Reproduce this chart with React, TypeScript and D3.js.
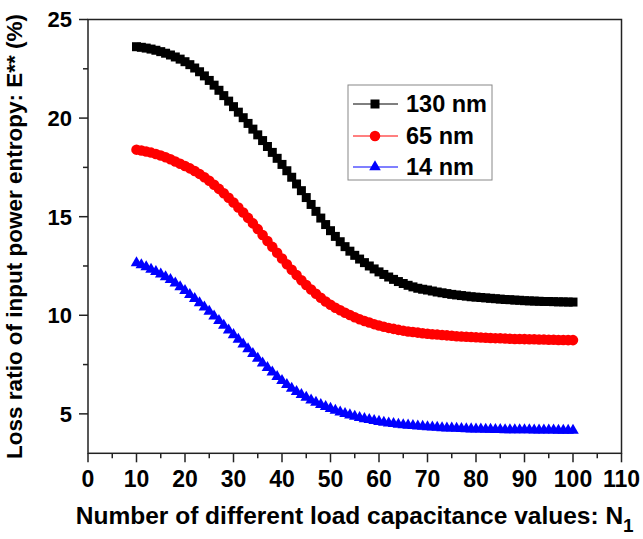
import React from "react";
import * as d3 from "d3";

// N1: number of different load capacitance values (10 … 100)
const nValues: number[] = d3.range(10, 101);

// Loss ratio E** (%) for each technology node, one value per N1
const loss130nm: number[] = [
  23.62, 23.59, 23.55, 23.50, 23.44, 23.37, 23.29, 23.20, 23.10, 22.99,
  22.86, 22.71, 22.54, 22.35, 22.14, 21.91, 21.67, 21.41, 21.14, 20.86,
  20.58, 20.30, 20.02, 19.73, 19.44, 19.15, 18.86, 18.56, 18.26, 17.96,
  17.65, 17.33, 17.00, 16.66, 16.32, 15.97, 15.62, 15.27, 14.93, 14.60,
  14.29, 14.00, 13.73, 13.48, 13.25, 13.04, 12.85, 12.67, 12.50, 12.35,
  12.20, 12.07, 11.94, 11.82, 11.71, 11.61, 11.52, 11.44, 11.37, 11.32,
  11.28, 11.23, 11.18, 11.14, 11.10, 11.06, 11.03, 11.00, 10.97, 10.94,
  10.92, 10.90, 10.88, 10.86, 10.84, 10.82, 10.80, 10.79, 10.77, 10.76,
  10.74, 10.73, 10.72, 10.71, 10.70, 10.70, 10.69, 10.68, 10.68, 10.67,
  10.67,
];

const loss65nm: number[] = [
  18.40, 18.36, 18.31, 18.25, 18.18, 18.10, 18.01, 17.91, 17.80, 17.68,
  17.57, 17.45, 17.32, 17.17, 17.00, 16.82, 16.62, 16.41, 16.19, 15.96,
  15.72, 15.47, 15.21, 14.94, 14.66, 14.37, 14.07, 13.77, 13.47, 13.17,
  12.88, 12.59, 12.31, 12.04, 11.78, 11.54, 11.31, 11.09, 10.89, 10.70,
  10.53, 10.38, 10.25, 10.13, 10.01, 9.90, 9.80, 9.71, 9.63, 9.55,
  9.48, 9.42, 9.36, 9.31, 9.26, 9.22, 9.18, 9.15, 9.12, 9.09,
  9.06, 9.04, 9.02, 9.00, 8.98, 8.96, 8.94, 8.92, 8.91, 8.90,
  8.88, 8.87, 8.86, 8.85, 8.84, 8.83, 8.82, 8.81, 8.80, 8.80,
  8.79, 8.78, 8.78, 8.77, 8.77, 8.76, 8.76, 8.75, 8.75, 8.74,
  8.74,
];

const loss14nm: number[] = [
  12.65, 12.55, 12.45, 12.33, 12.21, 12.08, 11.94, 11.80, 11.63, 11.44,
  11.25, 11.05, 10.84, 10.63, 10.41, 10.19, 9.96, 9.73, 9.49, 9.25,
  9.01, 8.77, 8.53, 8.29, 8.05, 7.81, 7.57, 7.34, 7.11, 6.89,
  6.68, 6.48, 6.29, 6.12, 5.97, 5.83, 5.70, 5.58, 5.47, 5.37,
  5.27, 5.18, 5.09, 5.01, 4.94, 4.87, 4.81, 4.75, 4.70, 4.65,
  4.61, 4.57, 4.53, 4.50, 4.47, 4.44, 4.42, 4.40, 4.38, 4.36,
  4.34, 4.32, 4.31, 4.29, 4.28, 4.27, 4.26, 4.25, 4.24, 4.23,
  4.22, 4.22, 4.21, 4.21, 4.20, 4.20, 4.19, 4.19, 4.19, 4.18,
  4.18, 4.18, 4.17, 4.17, 4.17, 4.17, 4.17, 4.16, 4.16, 4.16,
  4.16,
];

const seriesNames: string[] = ["130 nm", "65 nm", "14 nm"];
const seriesColors: string[] = ["#000000", "#ff0000", "#0000ff"];

const xTicks: number[] = d3.range(0, 111, 10);
const xMinorTicks: number[] = d3.range(5, 110, 10);
const yTicks: number[] = [5, 10, 15, 20, 25];
const yMinorTicks: number[] = [7.5, 12.5, 17.5, 22.5];

const WIDTH = 643;
const HEIGHT = 539;
const FONT = "Arial, 'Liberation Sans', Helvetica, sans-serif";

export default function App() {
  const x = d3.scaleLinear().domain([0, 110]).range([88, 621.5]);
  const y = d3.scaleLinear().domain([3, 25]).range([453.3, 19.5]);

  const seriesData = [loss130nm, loss65nm, loss14nm];
  const symbols = [
    d3.symbol().type(d3.symbolSquare).size(81)(),
    d3.symbol().type(d3.symbolCircle).size(87)(),
    d3.symbol().type(d3.symbolTriangle).size(58)(),
  ];

  const line = d3
    .line<[number, number]>()
    .x((d) => x(d[0]))
    .y((d) => y(d[1]));

  const [x0, x1] = x.range();
  const [yb, yt] = y.range();

  const legendX = 348;
  const legendY = 85;
  const legendRows = [104, 136, 167];

  return (
    <svg
      width={WIDTH}
      height={HEIGHT}
      style={{ position: "absolute", left: 0, top: 0, background: "#fff" }}
      fontFamily={FONT}
    >
      <rect width={WIDTH} height={HEIGHT} fill="#fff" />

      {/* series */}
      {seriesData.map((vals, si) => {
        const pts: [number, number][] = nValues.map((n, i) => [n, vals[i]]);
        return (
          <g key={seriesNames[si]}>
            <path d={line(pts) ?? ""} fill="none" stroke={seriesColors[si]} strokeWidth={1} />
            {pts.map((p, i) => (
              <path
                key={i}
                d={symbols[si] ?? ""}
                transform={`translate(${x(p[0])},${y(p[1])})`}
                fill={seriesColors[si]}
              />
            ))}
          </g>
        );
      })}

      {/* frame */}
      <rect
        x={x0}
        y={yt}
        width={x1 - x0}
        height={yb - yt}
        fill="none"
        stroke="#222"
        strokeWidth={1.5}
      />

      {/* x axis ticks */}
      {xTicks.map((t) => (
        <g key={`xt${t}`}>
          <line x1={x(t)} x2={x(t)} y1={yb} y2={yb + 9} stroke="#222" strokeWidth={1.5} />
          <text
            x={x(t)}
            y={487}
            textAnchor="middle"
            fontSize={23}
            fontWeight="bold"
            fill="#000"
          >
            {t}
          </text>
        </g>
      ))}
      {xMinorTicks.map((t) => (
        <line key={`xm${t}`} x1={x(t)} x2={x(t)} y1={yb} y2={yb + 5} stroke="#222" strokeWidth={1.5} />
      ))}

      {/* y axis ticks */}
      {yTicks.map((t) => (
        <g key={`yt${t}`}>
          <line x1={x0 - 9} x2={x0} y1={y(t)} y2={y(t)} stroke="#222" strokeWidth={1.5} />
          <text
            x={72}
            y={y(t)}
            dy="0.36em"
            textAnchor="end"
            fontSize={22}
            fontWeight="bold"
            fill="#000"
          >
            {t}
          </text>
        </g>
      ))}
      {yMinorTicks.map((t) => (
        <line key={`ym${t}`} x1={x0 - 5} x2={x0} y1={y(t)} y2={y(t)} stroke="#222" strokeWidth={1.5} />
      ))}

      {/* axis titles */}
      <text
        x={(x0 + x1) / 2}
        y={524}
        textAnchor="middle"
        fontSize={24.5}
        fontWeight="bold"
        fill="#000"
      >
        Number of different load capacitance values: N
        <tspan fontSize={19} dy={8}>1</tspan>
      </text>
      <text
        transform={`translate(21.5,${(yt + yb) / 2}) rotate(-90)`}
        textAnchor="middle"
        fontSize={22.5}
        fontWeight="bold"
        fill="#000"
      >
        Loss ratio of input power entropy: E** (%)
      </text>

      {/* legend */}
      <rect
        x={legendX}
        y={legendY}
        width={144}
        height={95}
        fill="#fff"
        stroke="#888"
        strokeWidth={1}
      />
      {seriesNames.map((name, si) => (
        <g key={`lg${name}`}>
          <line
            x1={353}
            x2={398}
            y1={legendRows[si]}
            y2={legendRows[si]}
            stroke={seriesColors[si]}
            strokeWidth={1}
          />
          <path
            d={symbols[si] ?? ""}
            transform={`translate(375,${legendRows[si]})`}
            fill={seriesColors[si]}
          />
          <text
            x={406}
            y={legendRows[si]}
            dy="0.36em"
            fontSize={23.5}
            fontWeight="bold"
            fill="#000"
          >
            {name}
          </text>
        </g>
      ))}
    </svg>
  );
}
